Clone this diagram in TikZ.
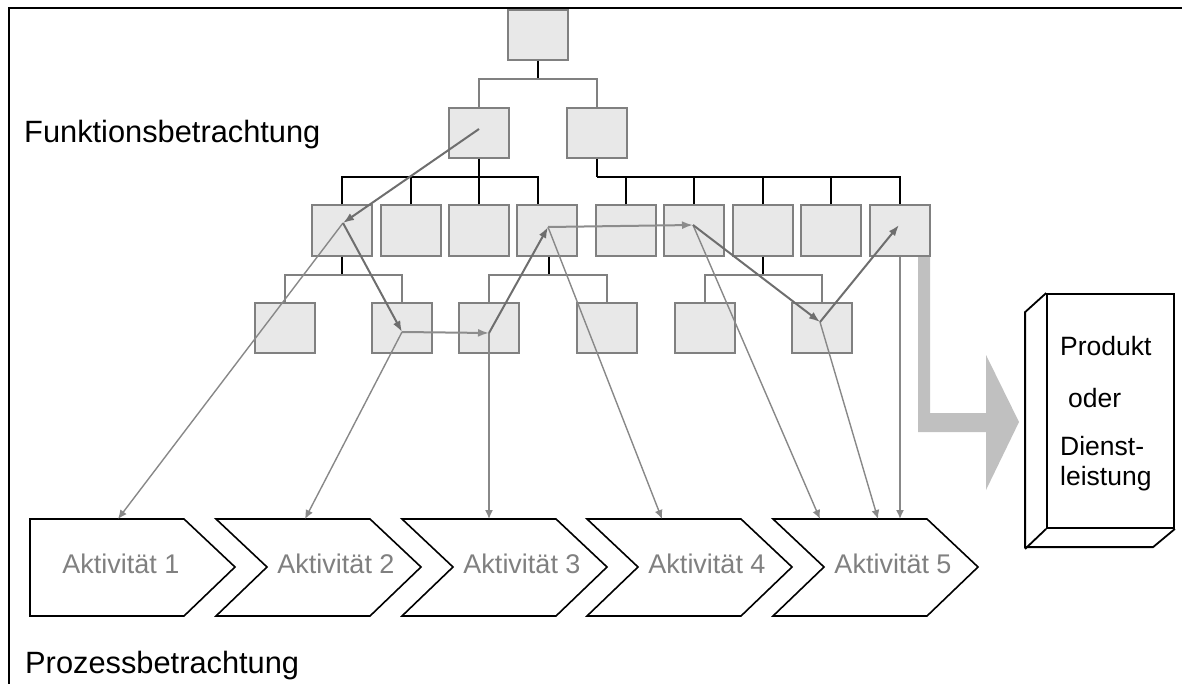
\documentclass[tikz,border=0pt]{standalone}
\usepackage{fontspec}
\setmainfont{Liberation Sans}
\usetikzlibrary{arrows.meta,calc}
\definecolor{boxfill}{HTML}{E8E8E8}
\definecolor{boxline}{HTML}{808080}
\definecolor{flowdark}{HTML}{6E6E6E}
\definecolor{flowmid}{HTML}{8C8C8C}
\definecolor{flowlight}{HTML}{888888}
\definecolor{bigarrow}{HTML}{C0C0C0}
\definecolor{acttext}{HTML}{808080}
\begin{document}
\begin{tikzpicture}[x=1pt,y=-1pt,
  fbox/.style={draw=boxline,fill=boxfill,line width=1.3pt,minimum width=60pt,inner sep=0pt},
  blk/.style={draw=black,line width=2pt},
  gbar/.style={draw=boxline,line width=1.6pt},
  flowd/.style={draw=flowdark,line width=2pt,-{Latex[length=11pt,width=8pt]}},
  flowm/.style={draw=flowmid,line width=2pt,-{Latex[length=11pt,width=8pt]}},
  flowl/.style={draw=flowlight,line width=1.4pt,-{Latex[length=9pt,width=8pt]}},
  chev/.style={draw=black,line width=1.6pt,line join=miter},
  akt/.style={text=acttext,font=\fontsize{27}{32}\selectfont,inner sep=0pt},
  title/.style={font=\fontsize{30.8}{36}\selectfont,inner sep=0pt,anchor=base west},
  prodtext/.style={font=\fontsize{26.5}{30}\selectfont,inner sep=0pt,anchor=base west}
]
\useasboundingbox (0,0) rectangle (1182,684);

% frame
\draw[line width=2.4pt] (9,684) -- (9,8) -- (1182,8);

% large output arrow
\fill[bigarrow] (918,256) -- (930,256) -- (930,413) -- (986,413) -- (986,355)
  -- (1019,422) -- (986,490) -- (986,432) -- (918,432) -- cycle;

% function tree
\node[fbox,minimum height=50pt] (f0) at (538,35) {};
\node[fbox,minimum height=50pt] (f1) at (479,133) {};
\node[fbox,minimum height=50pt] (f2) at (597,133) {};
\foreach \n/\x in {1/342,2/411,3/479,4/547,5/626,6/694,7/763,8/831,9/900}
  \node[fbox,minimum height=51pt] (g\n) at (\x,230.5) {};
\foreach \n/\x in {1/285,2/402,3/489,4/607,5/705,6/822}
  \node[fbox,minimum height=50pt] (h\n) at (\x,328) {};

\coordinate (j0) at (538,79);
\draw[blk,line width=2.6pt] (f0.south) -- (j0);
\draw[gbar] (f1.north) |- (j0) -| (f2.north);

\coordinate (j1) at (479,177);
\draw[blk,line width=2.6pt] (f1.south) -- (j1);
\draw[blk] (g1.north) |- (j1) -| ([xshift=-9pt]g4.north);
\draw[blk] (g2.north) -- (g2.north |- j1);
\draw[blk,line width=2.6pt] (g3.north) -- (j1);

\coordinate (j2) at (597,177);
\draw[blk,line width=2.6pt] (f2.south) -- (j2);
\draw[blk] (j2) -| (g9.north);
\foreach \n in {5,6,7,8}
  \draw[blk] (g\n.north) -- (g\n.north |- j2);

\coordinate (k1) at (342,275);
\coordinate (k2) at (549,275);
\coordinate (k3) at (763,275);
\draw[blk,line width=2.6pt] (g1.south) -- (k1);
\draw[blk,line width=2.6pt] ([xshift=2pt]g4.south) -- (k2);
\draw[blk,line width=2.6pt] (g7.south) -- (k3);
\draw[gbar] (h1.north) |- (k1) -| (h2.north);
\draw[gbar] (h3.north) |- (k2) -| (h4.north);
\draw[gbar] (h5.north) |- (k3) -| (h6.north);

% process chain
\draw[chev] (30,519) -- (184,519) -- (235,567) -- (184,616) -- (30,616) -- cycle;
\foreach \l in {216,402,587,773}
  \draw[chev] (\l,519) -- (\l+154,519) -- (\l+205,567) -- (\l+154,616)
    -- (\l,616) -- (\l+51,567) -- cycle;
\node[akt] (akt1) at (121,564) {Aktivität 1};
\node[akt] (akt2) at (336,564) {Aktivität 2};
\node[akt] (akt3) at (522,564) {Aktivität 3};
\node[akt] (akt4) at (707,564) {Aktivität 4};
\node[akt] (akt5) at (893,564) {Aktivität 5};

% flow points inside the function boxes
\coordinate (p0) at (479,129);
\coordinate (p1) at (343,223);
\coordinate (p2) at (402,332);
\coordinate (p3) at (489,333);
\coordinate (p4) at (548,227);
\coordinate (p5) at (693,225);
\coordinate (p6) at (820,322);
\coordinate (p7) at (899,225);

% arrow ends on the activities
\coordinate (e1) at (118,519);
\coordinate (e2) at (305,519);
\coordinate (e3) at (489,519);
\coordinate (e4) at (662,519);
\coordinate (e5) at (820,519);
\coordinate (e6) at (878,519);
\coordinate (e7) at (900,519);

\draw[flowl] (p1) -- (e1);
\draw[flowl] (p2) -- (e2);
\draw[flowl] (p3) -- (e3);
\draw[flowl] (p4) -- (e4);
\draw[flowl] (p5) -- (e5);
\draw[flowl] (p6) -- (e6);
\draw[flowl] (g9.south) -- (e7);

\draw[flowd] (p0) -- (p1);
\draw[flowd] (p1) -- (p2);
\draw[flowm] (p2) -- (p3);
\draw[flowd] (p3) -- (p4);
\draw[flowm] (p4) -- (p5);
\draw[flowd] (p5) -- (p6);
\draw[flowd] (p6) -- (p7);

% product box
\node[draw=black,fill=white,line width=1.8pt,minimum width=127pt,minimum height=234pt,inner sep=0pt] (prod) at (1110.5,411) {};
\draw[black,line width=1.8pt,line join=miter] (prod.north west) -- ++(-21,19) -- ++(0,235) -- ++(128,0) -- (prod.south east);
\draw[black,line width=1.8pt] (prod.south west) -- ++(-21,20);
\node[prodtext] (pt1) at (1060,355) {Produkt};
\node[prodtext] (pt2) at (1068,407) {oder};
\node[prodtext] (pt3) at (1060,455) {Dienst-};
\node[prodtext] (pt4) at (1060,485) {leistung};

% titles
\node[title] (fk) at (24,143) {Funktionsbetrachtung};
\node[title] (pz) at (25,673) {Prozessbetrachtung};
\end{tikzpicture}
\end{document}
